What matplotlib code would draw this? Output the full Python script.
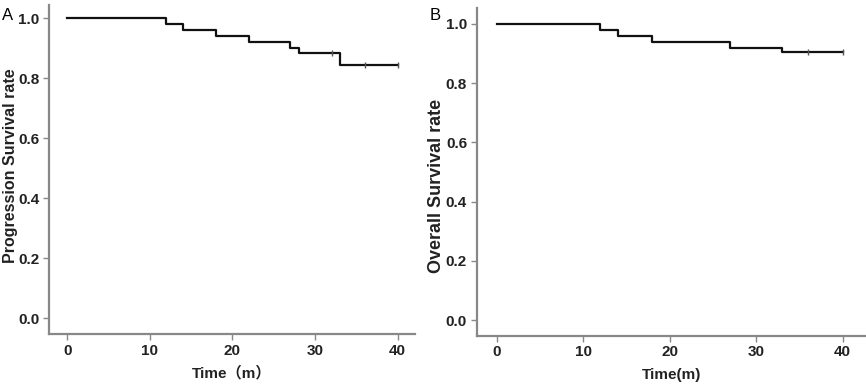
import matplotlib.pyplot as plt
import numpy as np

plt.rcParams['font.family'] = ['Liberation Sans', 'Noto Sans CJK SC', 'DejaVu Sans']

# 无进展生存 (A)
pfs_time = [0, 12, 14, 18, 22, 27, 28, 33, 40]
pfs_surv = [1.0, 0.98, 0.96, 0.94, 0.92, 0.90, 0.885, 0.845, 0.845]
pfs_cens_t = [32, 36, 40]
pfs_cens_s = [0.885, 0.845, 0.845]

# 总生存 (B)
os_time = [0, 12, 14, 18, 27, 33, 40]
os_surv = [1.0, 0.98, 0.96, 0.94, 0.92, 0.904, 0.904]
os_cens_t = [36, 40]
os_cens_s = [0.904, 0.904]

xticks = [0, 10, 20, 30, 40]
yticks = [0.0, 0.2, 0.4, 0.6, 0.8, 1.0]

fig = plt.figure(figsize=(8.66, 3.86), dpi=100)
axA = fig.add_axes([0.0566, 0.1347, 0.4226, 0.852])
axB = fig.add_axes([0.5505, 0.1303, 0.4495, 0.849])

panels = [
    (axA, pfs_time, pfs_surv, pfs_cens_t, pfs_cens_s, "Progression Survival rate",
     "Time（m）", (-2.2, 42.1), (-0.053, 1.043), 11.5, (0.0127, 0.570)),
    (axB, os_time, os_surv, os_cens_t, os_cens_s, "Overall Survival rate",
     "Time(m)", (-2.3, 42.7), (-0.053, 1.054), 13.0, (0.5046, 0.518)),
]

for ax, t, s, ct, cs, ylab, xlab, xl, yl, yfs, ypos in panels:
    ax.step(t, s, where='post', color='#111111', lw=1.6)
    ax.plot(ct, cs, ls='none', marker='|', ms=5, mew=1.0, color='#555555')
    ax.set_xlim(*xl)
    ax.set_ylim(*yl)
    ax.set_xticks(xticks)
    ax.set_yticks(yticks)
    ax.set_yticklabels([f"{v:.1f}" for v in yticks])
    for side in ['top', 'right']:
        ax.spines[side].set_visible(False)
    for side in ['left', 'bottom']:
        ax.spines[side].set_color('#888888')
        ax.spines[side].set_linewidth(1.6)
    ax.tick_params(direction='out', length=4, width=1.0, color='#888888',
                   labelsize=11, pad=3, labelcolor='#222222')
    for lab in ax.get_xticklabels() + ax.get_yticklabels():
        lab.set_fontweight('bold')
    fig.text(ypos[0], ypos[1], ylab, rotation=90, ha='center', va='center',
             fontsize=yfs, fontweight='bold', color='#222222')
    ax.set_xlabel(xlab, fontsize=11, fontweight='bold', labelpad=6, color='#222222')

fig.text(0.002, 0.961, "A", fontsize=12, va='center', ha='left')
fig.text(0.4965, 0.961, "B", fontsize=12, va='center', ha='left')

fig.savefig("out.png", dpi=100)
